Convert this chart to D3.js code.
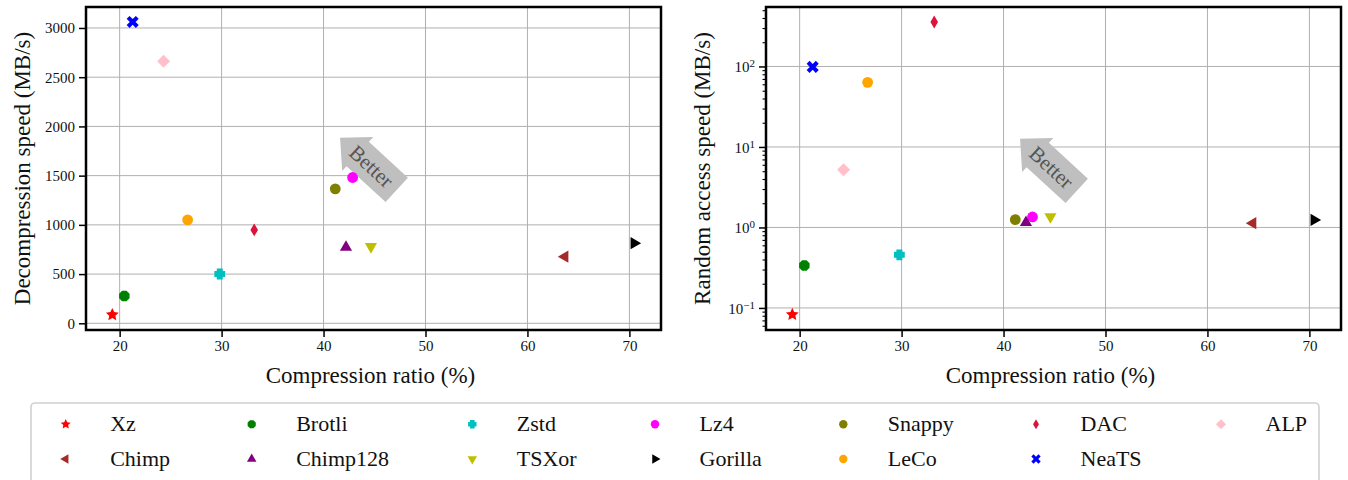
<!DOCTYPE html>
<html lang="en">
<head>
<meta charset="UTF-8">
<title>Compression ratio vs speed</title>
<script src="https://cdn.jsdelivr.net/npm/d3@7"></script>
<style>
  body { margin: 0; background: #fff; }
  svg text { font-family: "Liberation Serif", "DejaVu Serif", serif; fill: #111; }
  .grid line { stroke: #b0b0b0; stroke-width: 1; }
  .axis path { display: none; }
  .axis line { stroke: #000; stroke-width: 1.5; }
</style>
</head>
<body>
<div id="output"></div>
<script>

// ---- data ----
var methods = ["Xz", "Brotli", "Zstd", "Lz4", "Snappy", "DAC", "ALP",
               "Chimp", "Chimp128", "TSXor", "Gorilla", "LeCo", "NeaTS"];
var colors  = ["red", "green", "#00bfbf", "magenta", "olive", "crimson", "pink",
               "brown", "purple", "#bfbf00", "black", "orange", "blue"];
var shapes  = ["star", "octagon", "plus", "circle", "circle", "thindiamond", "diamond",
               "triLeft", "triUp", "triDown", "triRight", "circle", "x"];

var ratioDecomp = [19.28, 20.46, 29.82, 42.85, 41.15, 33.2, 24.31, 63.67, 42.2, 44.65, 70.46, 26.67, 21.28];
var decompSpeed = [87, 277, 501, 1481, 1366, 949, 2661, 677, 773, 779, 814, 1051, 3061];

var ratioAccess = [19.28, 20.46, 29.78, 42.84, 41.15, 33.2, 24.31, 64.45, 42.2, 44.6, 70.46, 26.67, 21.28];
var accessSpeed = [0.0826, 0.337, 0.457, 1.35, 1.25, 357, 5.22, 1.13, 1.15, 1.36, 1.24, 63.5, 98.8];

var xTicks = [20, 30, 40, 50, 60, 70];
var decompTicks = [0, 500, 1000, 1500, 2000, 2500, 3000];
var accessTicks = [0.1, 1, 10, 100];

// ---- marker shapes ----
function poly(pts) {
    return "M" + pts.map(function(p){ return p[0].toFixed(2) + "," + p[1].toFixed(2); }).join("L") + "Z";
}
function ring(n, r, rot) {
    var pts = [];
    for (var i = 0; i < n; i++) {
        var a = rot + i * 2 * Math.PI / n;
        pts.push([r * Math.cos(a), r * Math.sin(a)]);
    }
    return pts;
}
function markerPath(shape, r) {
    var w;
    switch (shape) {
        case "circle": return d3.symbol(d3.symbolCircle, Math.PI * r * r)();
        case "star":
            var pts = [];
            for (var i = 0; i < 10; i++) {
                var a = -Math.PI / 2 + i * Math.PI / 5, rr = i % 2 ? r * 0.6 : r * 1.25;
                pts.push([rr * Math.cos(a), rr * Math.sin(a)]);
            }
            return poly(pts);
        case "octagon": return poly(ring(8, r * 1.05, Math.PI / 8));
        case "plus":
            w = r * 0.55;
            return poly([[-w,-r],[w,-r],[w,-w],[r,-w],[r,w],[w,w],[w,r],[-w,r],[-w,w],[-r,w],[-r,-w],[-w,-w]]);
        case "x":
            w = r * 0.38;
            var s = Math.SQRT1_2, R = r * 1.2;
            var base = [[-w,-R],[w,-R],[w,-w],[R,-w],[R,w],[w,w],[w,R],[-w,R],[-w,w],[-R,w],[-R,-w],[-w,-w]];
            return poly(base.map(function(p){ return [s*(p[0]-p[1]), s*(p[0]+p[1])]; }));
        case "diamond": return poly([[0,-r*1.2],[r*1.2,0],[0,r*1.2],[-r*1.2,0]]);
        case "thindiamond": return poly([[0,-r*1.2],[r*0.7,0],[0,r*1.2],[-r*0.7,0]]);
        case "triUp": return poly(ring(3, r * 1.3, -Math.PI / 2));
        case "triDown": return poly(ring(3, r * 1.3, Math.PI / 2));
        case "triLeft": return poly(ring(3, r * 1.3, Math.PI));
        case "triRight": return poly(ring(3, r * 1.3, 0));
    }
}

// ---- layout ----
var W = 1348, H = 480;
var svg = d3.select("#output").append("svg")
    .attr("width", W).attr("height", H);

var panelTop = 7, panelBottom = 330, panelWidth = 575;

function drawPanel(left, xs, ys, yScale, yTicks, yLabel, isLog) {
    var right = left + panelWidth;
    var xScale = d3.scaleLinear().domain([16.7, 73.1]).range([left, right]);
    yScale.range([panelBottom, panelTop]);

    var g = svg.append("g");

    // grid
    var grid = g.append("g").attr("class", "grid");
    grid.selectAll(".gx").data(xTicks).enter().append("line")
        .attr("x1", function(d){ return xScale(d); }).attr("x2", function(d){ return xScale(d); })
        .attr("y1", panelTop).attr("y2", panelBottom);
    grid.selectAll(".gy").data(yTicks).enter().append("line")
        .attr("x1", left).attr("x2", right)
        .attr("y1", function(d){ return yScale(d); }).attr("y2", function(d){ return yScale(d); });

    // "Better" arrow
    var cx = xScale(44.4), cy = yScale(isLog ? 6.0 : 1620);
    var arrow = g.append("g").attr("transform", "translate(" + cx + "," + cy + ")");
    arrow.append("path")
        .attr("transform", "rotate(-137.4)")
        .attr("d", poly([[38.5,0],[14.5,23],[14.5,16.5],[-38.5,16.5],[-38.5,-16.5],[14.5,-16.5],[14.5,-23]]))
        .attr("fill", "#bfbfbf");
    arrow.append("text")
        .attr("transform", "rotate(42.6) translate(4,0)")
        .attr("text-anchor", "middle")
        .attr("dominant-baseline", "central")
        .style("font-size", "21px")
        .style("fill", "#555")
        .text("Better");

    // markers
    g.append("g").selectAll("path").data(methods).enter().append("path")
        .attr("transform", function(d, i){ return "translate(" + xScale(xs[i]) + "," + yScale(ys[i]) + ")"; })
        .attr("d", function(d, i){ return markerPath(shapes[i], 5.4); })
        .attr("fill", function(d, i){ return colors[i]; });

    // axes
    var xAxis = g.append("g").attr("class", "axis")
        .attr("transform", "translate(0," + panelBottom + ")")
        .call(d3.axisBottom(xScale).tickValues(xTicks).tickSize(7).tickPadding(3));
    xAxis.selectAll("text").style("font-size", "15px");

    var yAxis = g.append("g").attr("class", "axis")
        .attr("transform", "translate(" + left + ",0)")
        .call(d3.axisLeft(yScale).tickValues(yTicks).tickSize(7).tickPadding(4)
              .tickFormat(isLog ? function(){ return ""; } : d3.format("d")));
    yAxis.selectAll("text").style("font-size", "15px");

    if (isLog) {
        // minor ticks
        var minor = yScale.ticks().filter(function(d){ return yTicks.indexOf(d) < 0; });
        g.append("g").attr("class", "axis")
            .attr("transform", "translate(" + left + ",0)")
            .call(d3.axisLeft(yScale).tickValues(minor).tickSize(3.5).tickFormat(""))
            .selectAll("line").style("stroke-width", 1.1);
        // 10^n labels
        yAxis.selectAll(".tick text").each(function(d) {
            var t = d3.select(this).attr("dy", "0.35em");
            var e = Math.round(Math.log10(d));
            t.append("tspan").text("10");
            t.append("tspan").attr("dy", "-0.45em").style("font-size", "11px")
                .text(e < 0 ? "\u2212" + (-e) : e);
        });
    }

    // frame
    g.append("rect")
        .attr("x", left).attr("y", panelTop)
        .attr("width", panelWidth).attr("height", panelBottom - panelTop)
        .attr("fill", "none").attr("stroke", "#000").attr("stroke-width", 2.5);

    // labels
    g.append("text")
        .attr("x", (left + right) / 2 - 3).attr("y", 383)
        .attr("text-anchor", "middle")
        .style("font-size", "23px")
        .text("Compression ratio (%)");
    g.append("text")
        .attr("transform", "translate(" + (left - 56) + "," + 168.5 + ") rotate(-90)")
        .attr("text-anchor", "middle")
        .style("font-size", "23px")
        .text(yLabel);
}

drawPanel(86, ratioDecomp, decompSpeed,
          d3.scaleLinear().domain([-68, 3213]), decompTicks, "Decompression speed (MB/s)", false);
drawPanel(766, ratioAccess, accessSpeed,
          d3.scaleLog().domain([0.0532, 548]), accessTicks, "Random access speed (MB/s)", true);

// ---- legend ----
var legend = svg.append("g");
legend.append("rect")
    .attr("x", 31).attr("y", 403).attr("width", 1288).attr("height", 100)
    .attr("rx", 4).attr("fill", "#fff").attr("stroke", "#d0d0d0").attr("stroke-width", 1.6);

var legendCols = [65.7, 251.7, 472.3, 655, 843.3, 1036, 1221];
var legendRows = [424.3, 459];
var items = legend.selectAll(".item").data(methods).enter().append("g")
    .attr("transform", function(d, i){
        return "translate(" + legendCols[i % 7] + "," + legendRows[Math.floor(i / 7)] + ")";
    });
items.append("path")
    .attr("d", function(d, i){ return markerPath(shapes[i], 4.2); })
    .attr("fill", function(d, i){ return colors[i]; });
items.append("text")
    .attr("x", 44.5).attr("y", 7)
    .style("font-size", "22px")
    .text(function(d){ return d; });

</script>
</body>
</html>
